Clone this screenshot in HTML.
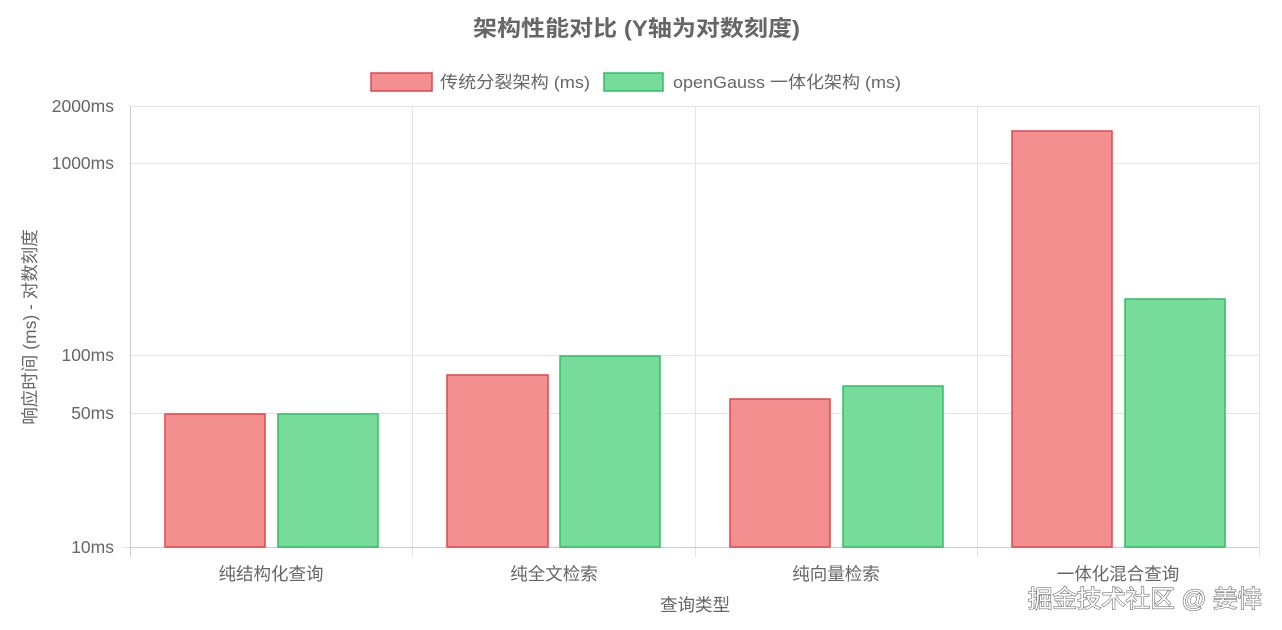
<!DOCTYPE html>
<html><head><meta charset="utf-8"><style>
html,body{margin:0;padding:0;background:#fff;}
svg{display:block;font-family:"Liberation Sans","Noto Sans CJK SC",sans-serif;}
</style></head><body>
<svg width="1282" height="630" viewBox="0 0 1282 630" xmlns="http://www.w3.org/2000/svg">
<text x="473" y="36" textLength="327" lengthAdjust="spacingAndGlyphs" font-size="22" font-weight="bold" fill="#666">架构性能对比 (Y轴为对数刻度)</text>
<rect x="371" y="73" width="61" height="18" fill="#f48f8f" stroke="#e0474c" stroke-width="1.5"/>
<text x="440" y="88" textLength="150" lengthAdjust="spacingAndGlyphs" font-size="17" fill="#666">传统分裂架构 (ms)</text>
<rect x="604" y="73" width="59" height="18" fill="#77dc9a" stroke="#2fbf64" stroke-width="1.5"/>
<text x="673" y="88" textLength="228" lengthAdjust="spacingAndGlyphs" font-size="17" fill="#666">openGauss 一体化架构 (ms)</text>
<g stroke="#e4e4e4" stroke-width="1">
<line x1="130" y1="106.5" x2="1259" y2="106.5"/>
<line x1="130" y1="163.5" x2="1259" y2="163.5"/>
<line x1="130" y1="355.5" x2="1259" y2="355.5"/>
<line x1="130" y1="413.5" x2="1259" y2="413.5"/>
<line x1="412.5" y1="106" x2="412.5" y2="557"/>
<line x1="695.5" y1="106" x2="695.5" y2="557"/>
<line x1="977.5" y1="106" x2="977.5" y2="557"/>
<line x1="1259.5" y1="106" x2="1259.5" y2="557"/>
<line x1="122" y1="547.5" x2="130" y2="547.5"/>
</g>
<line x1="130.5" y1="106" x2="130.5" y2="557" stroke="#ccc"/>
<line x1="130" y1="547.5" x2="1259" y2="547.5" stroke="#ccc"/>
<g font-size="17.5" fill="#666" text-anchor="end">
<text x="114" y="112">2000ms</text>
<text x="114" y="169">1000ms</text>
<text x="114" y="361">100ms</text>
<text x="114" y="419">50ms</text>
<text x="114" y="553">10ms</text>
</g>
<g fill="#f48f8f" stroke="#e0474c" stroke-width="1.5">
<rect x="165" y="414" width="100" height="133"/>
<rect x="447" y="375" width="101" height="172"/>
<rect x="730" y="399" width="100" height="148"/>
<rect x="1012" y="131" width="100" height="416"/>
</g>
<g fill="#77dc9a" stroke="#2fbf64" stroke-width="1.5">
<rect x="278" y="414" width="100" height="133"/>
<rect x="560" y="356" width="100" height="191"/>
<rect x="843" y="386" width="100" height="161"/>
<rect x="1125" y="299" width="100" height="248"/>
</g>
<g font-size="17.5" fill="#666" text-anchor="middle">
<text x="271" y="580">纯结构化查询</text>
<text x="554" y="580">纯全文检索</text>
<text x="836" y="580">纯向量检索</text>
<text x="1118" y="580">一体化混合查询</text>
<text x="695" y="611">查询类型</text>
<text transform="translate(36,327) rotate(-90)">响应时间 (ms) - 对数刻度</text>
</g>
<text x="1028" y="607" textLength="234" lengthAdjust="spacingAndGlyphs" font-size="24" fill="#fff" stroke="#777" stroke-width="1.3" paint-order="stroke">掘金技术社区 @ 姜悻</text>
</svg>
</body></html>
